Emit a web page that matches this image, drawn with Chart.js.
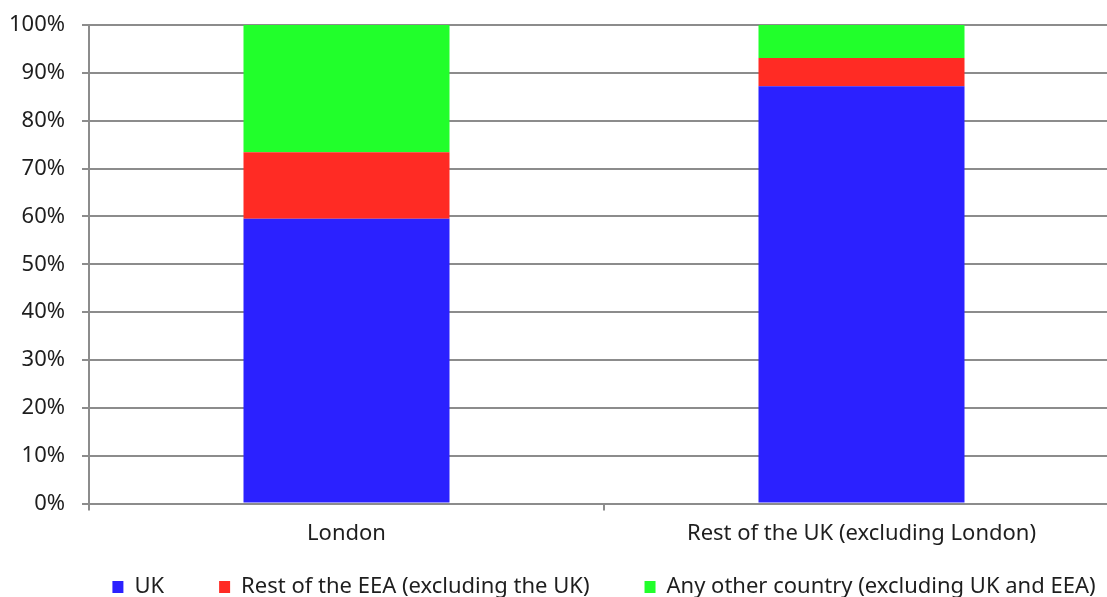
<!DOCTYPE html>
<html lang="en">
<head>
    <meta charset="UTF-8">
    <title>Country of birth: London vs rest of the UK</title>
    <script src="https://cdn.jsdelivr.net/npm/chart.js"></script>
    <style>
        html, body {
            margin: 0;
            padding: 0;
            background: #fff;
            overflow: hidden;
        }
        #wrap {
            position: absolute;
            left: 0;
            top: 0;
        }
    </style>
</head>
<body>
    <div id="wrap"><canvas id="chart" width="1119" height="597"></canvas></div>

    <script>
        const regions = ['London', 'Rest of the UK (excluding London)'];
        const seriesNames = ['UK', 'Rest of the EEA (excluding the UK)', 'Any other country (excluding UK and EEA)'];
        const ukShare = [59.5, 87.2];
        const eeaShare = [13.9, 5.9];
        const otherShare = [26.6, 6.9];
        const yTicks = [0, 10, 20, 30, 40, 50, 60, 70, 80, 90, 100];

        const colors = ['#2b21ff', '#ff2b24', '#21ff2b'];
        const gridColor = '#8c8c8c';
        const font = { family: "'Noto Sans', sans-serif", size: 22 };

        Chart.defaults.font = font;
        Chart.defaults.color = '#1e1e1e';

        // keep the legend on one row under the plot and pull it up closer to the axis
        const legendRow = {
            id: 'legendRow',
            beforeInit(chart) {
                const legend = chart.legend;
                const fit = legend.fit;
                legend.fit = function () {
                    const w = this.maxWidth;
                    this.maxWidth = 1400;
                    fit.call(this);
                    this.maxWidth = w;
                    this.width = w;
                    this.height = 40;
                };
                const draw = legend.draw;
                legend.draw = function () {
                    const { top, left, right } = this;
                    this.top = top - 36;
                    this.left = left - 150;
                    this.right = right + 150;
                    draw.call(this);
                    Object.assign(this, { top, left, right });
                };
            }
        };

        new Chart(document.getElementById('chart').getContext('2d'), {
            type: 'bar',
            data: {
                labels: regions,
                datasets: [ukShare, eeaShare, otherShare].map((d, i) => ({
                    label: seriesNames[i],
                    data: d,
                    backgroundColor: colors[i],
                    borderWidth: 0,
                    barPercentage: 0.4,
                    categoryPercentage: 1
                }))
            },
            plugins: [legendRow],
            options: {
                responsive: false,
                devicePixelRatio: 1,
                animation: false,
                layout: { padding: { left: 0, top: 25, right: 0, bottom: 0 } },
                plugins: {
                    tooltip: { enabled: false },
                    legend: {
                        position: 'bottom',
                        fullSize: false,
                        labels: {
                            boxWidth: 11,
                            boxHeight: 12,
                            padding: 55,
                            font: font
                        }
                    }
                },
                scales: {
                    x: {
                        stacked: true,
                        offset: true,
                        grid: {
                            offset: true,
                            drawOnChartArea: false,
                            color: gridColor,
                            lineWidth: 2,
                            tickLength: 7
                        },
                        border: { color: gridColor, width: 2 },
                        ticks: { padding: 10, font: font, maxRotation: 0 }
                    },
                    y: {
                        stacked: true,
                        min: 0,
                        max: 100,
                        afterBuildTicks: axis => {
                            axis.ticks = yTicks.map(v => ({ value: v }));
                        },
                        afterFit: axis => {
                            axis.width = 89;
                            axis.paddingTop = 0;
                            axis.paddingBottom = 0;
                        },
                        grid: {
                            color: gridColor,
                            lineWidth: 2,
                            tickLength: 7
                        },
                        border: { color: gridColor, width: 2 },
                        ticks: {
                            padding: 17,
                            font: font,
                            callback: v => v + '%'
                        }
                    }
                }
            }
        });
    </script>
</body>
</html>
